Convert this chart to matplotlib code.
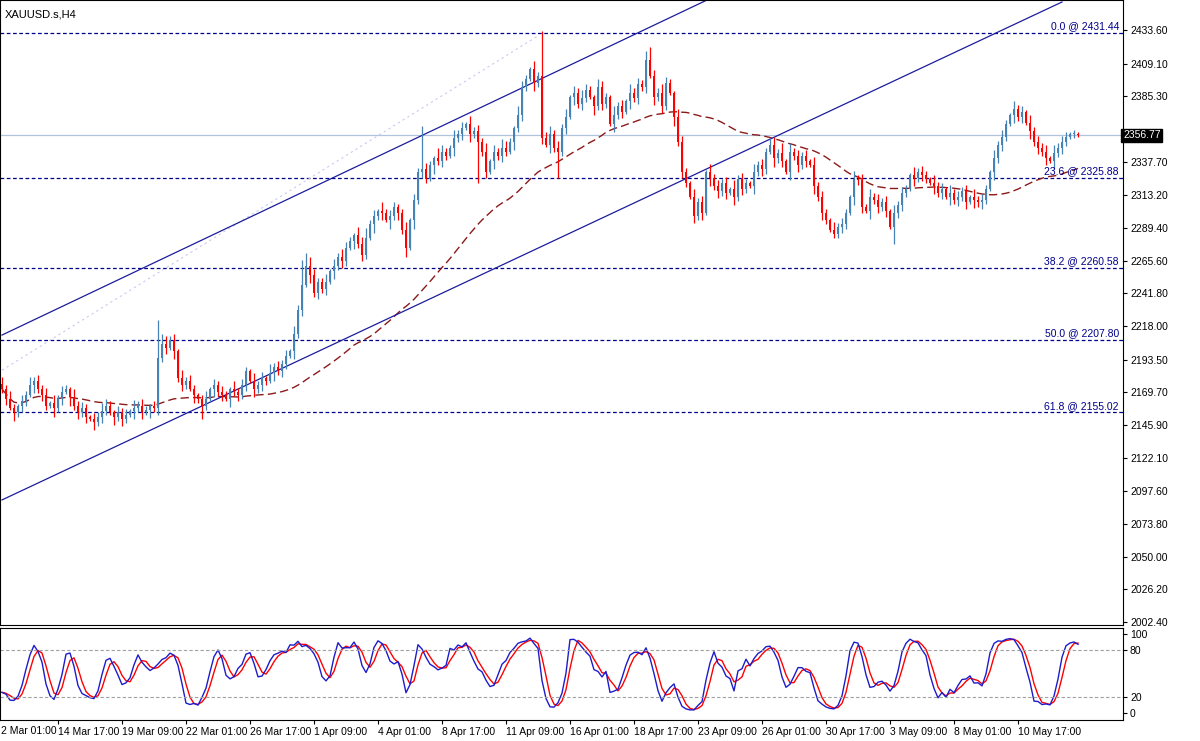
import numpy as np
import pandas as pd
import matplotlib
matplotlib.use("Agg")
import matplotlib.pyplot as plt
from matplotlib.patches import Rectangle

# H4 closes, one per bar (4 px per bar)
closes = [
    2172, 2165, 2158, 2155, 2160, 2163, 2168, 2175, 2178, 2172,
    2168, 2160, 2162, 2158, 2165, 2170, 2172, 2166, 2160, 2155,
    2158, 2152, 2150, 2148, 2152, 2156, 2160, 2155, 2152, 2155,
    2150, 2153, 2156, 2158, 2160, 2155, 2157, 2160, 2158, 2195,
    2205, 2202, 2208, 2200, 2180, 2175, 2178, 2172, 2168, 2165,
    2160, 2165, 2172, 2175, 2170, 2168, 2165, 2172, 2170, 2168,
    2175, 2185, 2178, 2172, 2175, 2180, 2178, 2184, 2188, 2185,
    2190, 2196, 2200, 2212, 2230, 2248, 2262, 2255, 2242, 2250,
    2245, 2250, 2258, 2262, 2268, 2265, 2275, 2280, 2284, 2278,
    2270, 2282, 2292, 2298, 2302, 2300, 2295, 2298, 2305, 2300,
    2288, 2275, 2295, 2310, 2330, 2332, 2325, 2335, 2340, 2338,
    2345, 2342, 2348, 2355, 2358, 2362, 2365, 2358, 2360, 2352,
    2345, 2330, 2338, 2345, 2342, 2348, 2345, 2352, 2362, 2372,
    2392, 2398, 2405, 2395, 2400, 2355, 2350, 2358, 2348, 2345,
    2362, 2370, 2385, 2388, 2380, 2384, 2390, 2385, 2378, 2392,
    2380, 2385, 2365, 2372, 2378, 2374, 2382, 2388, 2384, 2394,
    2392, 2412, 2400, 2385, 2388, 2378, 2395, 2388, 2370, 2352,
    2330, 2322, 2312, 2298, 2308, 2300, 2330, 2326, 2320, 2316,
    2322, 2315, 2318, 2312, 2325, 2318, 2322, 2320, 2330, 2335,
    2332, 2345, 2350, 2340, 2344, 2338, 2330, 2345, 2342, 2335,
    2342, 2338, 2335, 2320, 2312, 2300, 2295, 2288, 2285, 2290,
    2292, 2300, 2312, 2325, 2324, 2305, 2302, 2312, 2310, 2305,
    2308, 2302, 2290, 2300, 2306, 2315, 2318, 2328, 2326, 2330,
    2328, 2325, 2322, 2320, 2315, 2318, 2312, 2315, 2310, 2312,
    2316, 2308, 2312, 2310, 2308, 2310, 2318, 2330, 2340, 2350,
    2356, 2365, 2372, 2376, 2370, 2374, 2366, 2360, 2352, 2348,
    2345, 2340, 2338, 2344, 2348, 2352, 2356, 2358, 2358, 2357,
]
first_open = 2176
# wick lengths above / below the body, in units of 1.5 USD
wick_up = ("3242132423" "2314232142" "3213243213" "2314232126" "3423142321"
           "2413232142" "3214231423" "2314236432" "2413243214" "3523142321"
           "2413243215" "3214231423" "2413243214" "3214233423" "2413243214"
           "3214231423" "2463243214" "3214231423" "2314232142" "3214251423"
           "2314232142" "3214231423" "2314232142" "3214231423" "2314232142"
           "3214231423" "2314232121")
wick_dn = ("2314232142" "3214231423" "2314232142" "3214231423" "2314232142"
           "3214231423" "2314232142" "3214231423" "2314232142" "3214231423"
           "2314232142" "3214231425" "2314232142" "3214231423" "2314232142"
           "3214231423" "2314232142" "3214231423" "2314232142" "3214231423"
           "2314232142" "3214231423" "2314232142" "3214231423" "2314232142"
           "3214231423" "2314232121")
high_spikes = {39: 2222, 40: 2212, 75: 2266, 105: 2364, 135: 2433, 161: 2418, 192: 2355}
low_spikes = {50: 2150, 101: 2268, 119: 2322, 139: 2326, 173: 2293, 208: 2282, 223: 2278}

fib_levels = [2431.44, 2325.88, 2260.58, 2207.80, 2155.02]
fib_names = ["0.0", "23.6", "38.2", "50.0", "61.8"]
price_ticks = [2433.60, 2409.10, 2385.30, 2361.50, 2337.70, 2313.20, 2289.40, 2265.60,
               2241.80, 2218.00, 2193.50, 2169.70, 2145.90, 2122.10, 2097.60, 2073.80,
               2050.00, 2026.20, 2002.40]
last_price = 2356.77
date_bars = [14, 30, 46, 62, 78, 94, 110, 126, 142, 158, 174, 190, 206, 222, 238, 254]
date_labels = ["14 Mar 17:00", "19 Mar 09:00", "22 Mar 01:00", "26 Mar 17:00", "1 Apr 09:00",
               "4 Apr 01:00", "8 Apr 17:00", "11 Apr 09:00", "16 Apr 01:00", "18 Apr 17:00",
               "23 Apr 09:00", "26 Apr 01:00", "30 Apr 17:00", "3 May 09:00", "8 May 01:00",
               "10 May 17:00"]

c = np.array(closes, float)
n = len(c)
o = np.r_[first_open, c[:-1]]
hi = np.maximum(o, c) + 1.5 * np.array([int(d) for d in wick_up[:n]])
lo = np.minimum(o, c) - 1.5 * np.array([int(d) for d in wick_dn[:n]])
for k, v in high_spikes.items():
    hi[k] = v
for k, v in low_spikes.items():
    lo[k] = v
idx = np.arange(n)

ma = pd.Series(c).rolling(50, min_periods=1).mean()
hh = pd.Series(hi).rolling(5, min_periods=1).max()
ll = pd.Series(lo).rolling(5, min_periods=1).min()
k_main = ((pd.Series(c) - ll).rolling(3, min_periods=1).sum()
          / (hh - ll).rolling(3, min_periods=1).sum() * 100)
d_sig = k_main.rolling(3, min_periods=1).mean()

plt.rcParams['font.family'] = 'Liberation Sans'
fig = plt.figure(figsize=(12, 7.41), dpi=100)
W, H = 1200, 741
ax = fig.add_axes([0, 1 - 625 / H, 1123 / W, 625 / H])
ax2 = fig.add_axes([0, 1 - 720 / H, 1123 / W, 92 / H])

xmax = 1123 / 4 - 0.5
for a in (ax, ax2):
    a.set_xlim(-0.5, xmax)
    for s in a.spines.values():
        s.set_linewidth(0.8)
ax.set_ylim(2000.2, 2455.45)

blue, red = '#4682b4', '#ff0000'
for i in idx:
    col = blue if c[i] >= o[i] else red
    ax.vlines(i, lo[i], hi[i], color=col, lw=0.9, zorder=3)
    b = max(abs(c[i] - o[i]), 0.6)
    ax.add_patch(Rectangle((i - 0.36, min(o[i], c[i])), 0.72, b, color=col, lw=0, zorder=3))

ax.plot(idx, ma, color='#8b1a1a', lw=1, ls=(0, (6, 3)), zorder=2)

for lv, nm in zip(fib_levels, fib_names):
    ax.axhline(lv, color='#00008b', lw=0.9, ls=(0, (3, 2)), zorder=1)
    ax.text(xmax - 1, lv + 1.2, f"{nm} @ {lv:.2f}", ha='right', va='bottom',
            fontsize=7.5, color='#00008b')

ax.axhline(last_price, color='#b0c4de', lw=0.9, zorder=1)

# trend channel
ax.plot([0, 176.25], [2211.4, 2455.45], color='#1c1c9c', lw=0.9, zorder=2)
ax.plot([0, 265], [2091.3, 2454.0], color='#1c1c9c', lw=0.9, zorder=2)
ax.plot([0, 134.25], [2185.8, 2429.8], color='#c8c8f0', lw=0.8, ls=(0, (2, 3)), zorder=1)

ax.yaxis.tick_right()
shown = [t for t in price_ticks if t != 2361.50]
ax.set_yticks(shown)
ax.set_yticklabels([f"{t:.2f}" for t in shown], fontsize=7.5)
ax.tick_params(axis='y', length=3, pad=2)
ax.set_xticks([])
ax.text(0.004, 0.985, "XAUUSD.s,H4", transform=ax.transAxes, fontsize=8, va='top')
ax.text(1.0, last_price, f"{last_price:.2f}", transform=ax.get_yaxis_transform(),
        fontsize=7.5, color='white', va='center', ha='left', zorder=10,
        bbox=dict(boxstyle='square,pad=0.15', fc='black', ec='black'), clip_on=False)

ax2.set_ylim(-8.9, 107.6)
ax2.plot(idx, d_sig, color='#ff0000', lw=1)
ax2.plot(idx, k_main, color='#1c1ccc', lw=1)
for lv in (80, 20):
    ax2.axhline(lv, color='#a0a0a0', lw=0.8, ls=(0, (3, 2)))
ax2.yaxis.tick_right()
ax2.set_yticks([100, 80, 20, 0])
ax2.set_yticklabels(["100", "80", "20", "0"], fontsize=7.5)
ax2.tick_params(axis='y', length=3, pad=2)
ax2.set_xticks(date_bars)
ax2.set_xticklabels(date_labels, fontsize=7.5, ha='left')
ax2.tick_params(axis='x', length=3, pad=2)
fig.text(1 / W, 1 - 731 / H, "2 Mar 01:00", fontsize=7.5, va='center')

fig.savefig("out.png", dpi=100, facecolor='white')
